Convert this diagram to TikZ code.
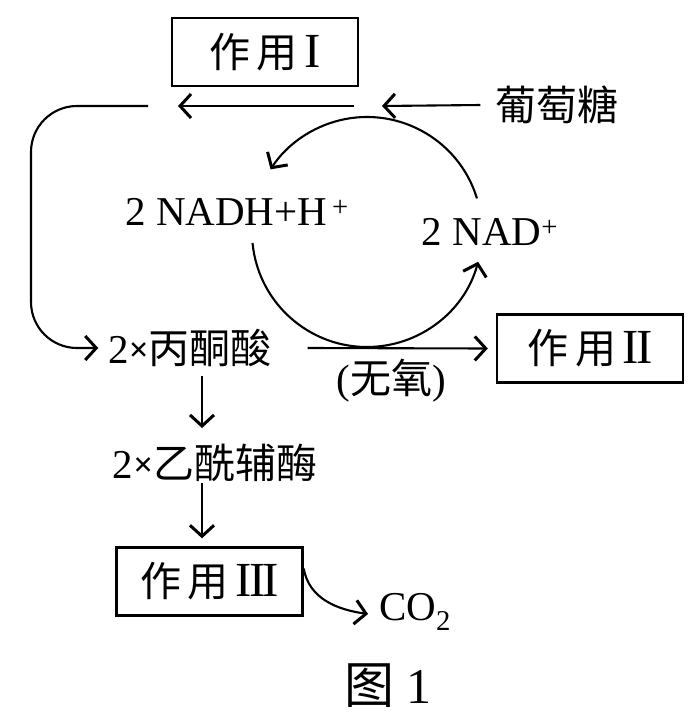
\documentclass[tikz,border=0pt]{standalone}
\usepackage{fontspec}
\setmainfont{Liberation Serif}
\newfontfamily\cjk{Noto Sans CJK SC}
\usetikzlibrary{arrows.meta}
\newcommand{\rnfont}{\normalfont\fontsize{49}{50}\selectfont}
\newcommand{\rI}{{\rnfont I}}
\newcommand{\rII}{{\rnfont I\kern-0.06em I}}
\newcommand{\rIII}{{\rnfont I\kern-0.06em I\kern-0.06em I}}
\newcommand{\tms}{{\normalfont\bfseries\raisebox{0.05em}{\scalebox{0.85}{×}}}}
\begin{document}
\begin{tikzpicture}[x=1pt,y=-1pt,
  line width=2.1pt,
  >={Straight Barb[length=11pt,width=24pt,line width=3pt]},
  lbl/.style={inner sep=0pt,font=\fontsize{41}{44}\selectfont},
  boxed/.style={draw,line width=2.4pt,inner sep=0pt,minimum width=186pt,minimum height=68pt,font=\fontsize{41}{44}\selectfont}]
\useasboundingbox (0,0) rectangle (696,715);
% nodes
\node[boxed] (b1) at (265,52) {\cjk 作\,用\,\rI};
\node[lbl] (glu) at (557,105) {\cjk 葡萄糖};
\node[lbl] (nadh) at (237,212) {2 NADH+H\textsuperscript{\,+}};
\node[lbl] (nad) at (490,232) {2 NAD\textsuperscript{+}};
\node[lbl] (pyr) at (190,348) {2\tms{\cjk 丙酮酸}};
\node[lbl] (wy) at (391,381) {(\cjk 无氧\normalfont)};
\node[boxed] (b2) at (590,348.5) {\cjk 作\,用\,\rII};
\node[lbl] (ace) at (215,463) {2\tms{\cjk 乙酰辅酶}};
\node[boxed] (b3) at (209.5,581.5) {\cjk 作\,用\,\rIII};
\node[lbl] (co2) at (415,612) {CO\textsubscript{2}};
\node[lbl,font=\fontsize{50}{54}\selectfont] (fig) at (388,686) {{\cjk 图} 1};
% coordinates
\coordinate (c) at (367,232);
\coordinate (g2) at (382,106);
\coordinate (a1s) at (354,106);
\coordinate (a1e) at (178,106);
\coordinate (ls) at (148,106);
% top arrows
\draw[->] ([xshift=-14pt]glu.west) -- (g2);
\draw[->] (a1s) -- (a1e);
% left connector
\draw[->,rounded corners=46pt] (ls) -- (31,106) -- (31,348) -- ([xshift=-9pt]pyr.west);
% cycle arcs
\draw[->] ([shift={(-17:115)}]c) arc[start angle=-17,end angle=-147,radius=115];
\draw[->] ([shift={(174.5:115)}]c) arc[start angle=174.5,end angle=15,radius=115];
% pyruvate -> II
\draw[->] ([xshift=35pt]pyr.east) -- ([xshift=-8pt]b2.west);
% down arrows
\draw[->] ([yshift=-8pt]pyr.south -| 202,0) -- (202,428);
\draw[->] (202,483) -- ([yshift=8pt]b3.north -| 202,0);
% III -> CO2
\draw[->] ([yshift=13pt]b3.east) to[out=-80,in=172] ([xshift=-10pt,yshift=-2pt]co2.west);
\end{tikzpicture}
\end{document}
